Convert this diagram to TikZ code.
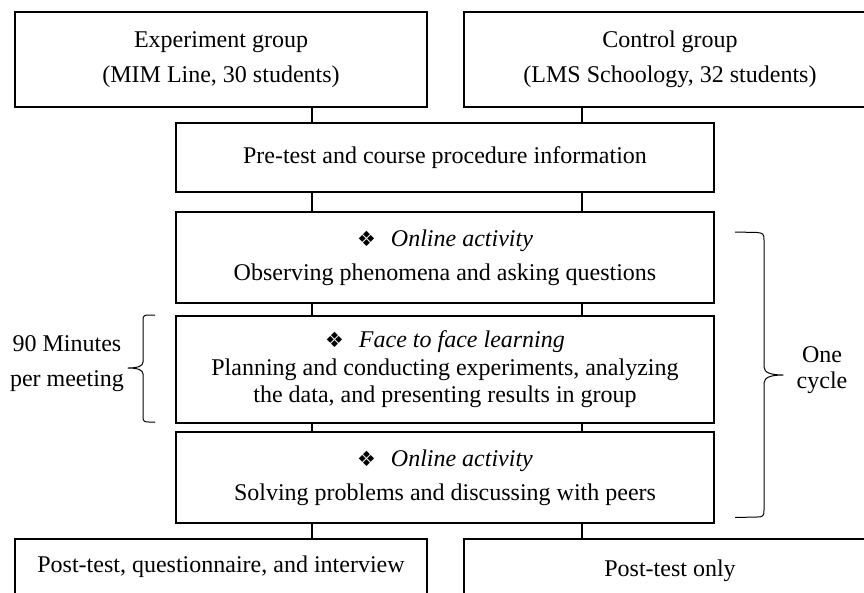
\documentclass[tikz,border=0pt]{standalone}
\usepackage{fontspec}
\setmainfont{Liberation Serif}
\newfontfamily\symfont{DejaVu Sans}
\newcommand{\fleuron}{{\symfont\fontsize{21}{20}\selectfont ❖}\hspace{15pt}}
\begin{document}
\begin{tikzpicture}[x=1pt,y=-1pt,
  box/.style={draw, line width=2.6pt, inner sep=0pt, align=center, font=\fontsize{24}{28}\selectfont},
  conn/.style={line width=2.6pt},
  brc/.style={line width=1pt, line join=round},
  lbl/.style={inner sep=0pt, align=center}]
\useasboundingbox (0,0) rectangle (864,592);
\clip (0,0) rectangle (864,592);

\coordinate (xL) at (312,0);
\coordinate (xR) at (582,0);

\node[box, minimum width=412pt, minimum height=95pt] (exp) at (221,59.5)
  {Experiment group\\[7pt](MIM Line, 30 students)};
\node[box, minimum width=412pt, minimum height=95pt] (ctrl) at (670,59.5)
  {Control group\\[7pt](LMS Schoology, 32 students)};
\node[box, minimum width=538pt, minimum height=69pt] (pre) at (445,157.5)
  {Pre-test and course procedure information};
\node[box, minimum width=538pt, minimum height=91pt] (on1) at (445,257.5)
  {\fleuron\textit{Online activity}\\[6pt]Observing phenomena and asking questions};
\node[box, minimum width=538pt, minimum height=107pt, font=\fontsize{24}{27.5}\selectfont] (f2f) at (445,369.5)
  {\fleuron\textit{Face to face learning}\\Planning and conducting experiments, analyzing\\the data, and presenting results in group};
\node[box, minimum width=538pt, minimum height=91pt] (on2) at (445,477.5)
  {\fleuron\textit{Online activity}\\[6pt]Solving problems and discussing with peers};
\node[box, minimum width=412pt, minimum height=56pt] (postA) at (221,567)
  {Post-test, questionnaire, and interview};
\node[box, minimum width=412pt, minimum height=64pt] (postB) at (670,571)
  {Post-test only};

\draw[conn] (exp.south -| xL) -- (pre.north -| xL);
\draw[conn] (ctrl.south -| xR) -- (pre.north -| xR);
\draw[conn] (pre.south -| xL) -- (on1.north -| xL);
\draw[conn] (pre.south -| xR) -- (on1.north -| xR);
\draw[conn] (on1.south -| xL) -- (f2f.north -| xL);
\draw[conn] (on1.south -| xR) -- (f2f.north -| xR);
\draw[conn] (f2f.south -| xL) -- (on2.north -| xL);
\draw[conn] (f2f.south -| xR) -- (on2.north -| xR);
\draw[conn] (on2.south -| xL) -- (postA.north -| xL);
\draw[conn] (on2.south -| xR) -- (postB.north -| xR);

% right brace
\draw[brc] (735,232) -- (757,232.5) .. controls (763,233) and (764,234) .. (764,240)
  -- (764,367) .. controls (764,373) and (772,375) .. (783,375)
  .. controls (772,375) and (764,377) .. (764,383)
  -- (764,510) .. controls (764,516) and (763,517) .. (757,517) -- (735,517.5);
\node[lbl, font=\fontsize{24}{26}\selectfont] (cyc) at (822,370) {One\\cycle};

% left brace
\draw[brc] (155,315) -- (149,315) .. controls (144,315) and (143,316) .. (143,320)
  -- (143,362) .. controls (143,366) and (138,368) .. (128,368)
  .. controls (138,368) and (143,370) .. (143,374)
  -- (143,417) .. controls (143,421) and (144,422) .. (149,422) -- (155,422);
\node[lbl, font=\fontsize{24}{35}\selectfont] (mins) at (67,364) {90 Minutes\\per meeting};
\end{tikzpicture}
\end{document}
